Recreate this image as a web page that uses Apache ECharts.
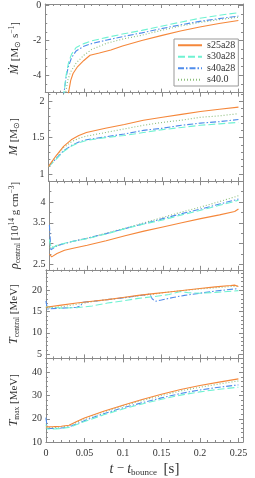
<!DOCTYPE html>
<html><head><meta charset="utf-8">
<script src="https://cdn.jsdelivr.net/npm/echarts@6/dist/echarts.min.js"></script>
<style>html,body{margin:0;padding:0;background:#fff}#c{width:255px;height:478px}</style>
</head><body><div id="c"></div>
<script>
// ---------- data ----------
const seriesNames = ['s25a28', 's30a28', 's40a28', 's40.0'];
const xMajorTicks = [0, 0.05, 0.1, 0.15, 0.2, 0.25];
const xTickLabels = ['0', '0.05', '0.1', '0.15', '0.2', '0.25'];

// Panel 1: mass accretion rate [Msun/s]
const mdot_s25a28 = [[0.029,-5.3],[0.033,-4.3],[0.036,-3.9],[0.042,-3.5],[0.05,-3.15],[0.058,-2.85],[0.07,-2.72],[0.085,-2.55],[0.1,-2.32],[0.125,-2.0],[0.15,-1.72],[0.175,-1.45],[0.2,-1.22],[0.225,-1.02],[0.25,-0.85]];
const mdot_s30a28 = [[0.0235,-5.3],[0.027,-4.0],[0.03,-3.3],[0.034,-2.8],[0.04,-2.4],[0.05,-2.18],[0.06,-2.02],[0.08,-1.82],[0.1,-1.63],[0.125,-1.42],[0.15,-1.18],[0.175,-0.95],[0.2,-0.72],[0.225,-0.55],[0.25,-0.4]];
const mdot_s40a28 = [[0.0235,-5.3],[0.027,-4.1],[0.03,-3.5],[0.034,-3.0],[0.04,-2.6],[0.05,-2.33],[0.06,-2.18],[0.08,-1.97],[0.1,-1.78],[0.125,-1.56],[0.15,-1.32],[0.175,-1.1],[0.2,-0.9],[0.225,-0.74],[0.25,-0.6]];
const mdot_s40_0  = [[0.0255,-5.3],[0.029,-4.3],[0.033,-3.8],[0.04,-3.3],[0.05,-2.85],[0.06,-2.52],[0.08,-2.15],[0.1,-1.92],[0.125,-1.7],[0.15,-1.42],[0.175,-1.17],[0.2,-0.96],[0.225,-0.8],[0.25,-0.66]];
const mdotTicks = [-4, -2, 0];

// Panel 2: PNS mass [Msun]
const mass_s25a28 = [[0,1.1],[0.01,1.25],[0.02,1.38],[0.03,1.47],[0.04,1.53],[0.05,1.57],[0.075,1.63],[0.1,1.68],[0.125,1.74],[0.15,1.78],[0.175,1.82],[0.2,1.86],[0.225,1.89],[0.25,1.92]];
const mass_s30a28 = [[0,1.1],[0.01,1.2],[0.02,1.31],[0.03,1.38],[0.04,1.43],[0.05,1.46],[0.075,1.5],[0.1,1.53],[0.125,1.57],[0.15,1.61],[0.175,1.64],[0.2,1.67],[0.225,1.69],[0.25,1.71]];
const mass_s40a28 = [[0,1.1],[0.01,1.21],[0.02,1.32],[0.03,1.39],[0.04,1.44],[0.05,1.47],[0.075,1.51],[0.1,1.55],[0.125,1.6],[0.15,1.63],[0.175,1.67],[0.2,1.7],[0.225,1.72],[0.25,1.75]];
const mass_s40_0  = [[0,1.1],[0.01,1.24],[0.02,1.36],[0.03,1.44],[0.04,1.49],[0.05,1.52],[0.075,1.57],[0.1,1.62],[0.125,1.67],[0.15,1.71],[0.175,1.74],[0.2,1.78],[0.225,1.8],[0.25,1.83]];
const massTicks = [1, 1.5, 2];

// Panel 3: central density [1e14 g/cm3]
const rho_s25a28 = [[0,2.75],[0.003,2.68],[0.01,2.76],[0.02,2.84],[0.03,2.88],[0.05,2.96],[0.075,3.07],[0.1,3.19],[0.125,3.3],[0.15,3.4],[0.175,3.5],[0.2,3.6],[0.225,3.69],[0.245,3.77],[0.25,3.83]];
const rho_s30a28 = [[0,3.1],[0.002,2.88],[0.01,2.96],[0.02,3.01],[0.03,3.05],[0.05,3.12],[0.075,3.23],[0.1,3.36],[0.125,3.47],[0.15,3.57],[0.175,3.69],[0.2,3.8],[0.225,3.92],[0.25,4.04]];
const rho_s40a28 = [[0,3.45],[0.002,2.85],[0.01,2.95],[0.02,3.0],[0.03,3.05],[0.05,3.13],[0.075,3.24],[0.1,3.36],[0.125,3.48],[0.14,3.55],[0.15,3.6],[0.175,3.72],[0.2,3.83],[0.225,3.95],[0.25,4.07]];
const rho_s40_0  = [[0,2.9],[0.002,2.86],[0.01,2.95],[0.02,3.0],[0.03,3.05],[0.05,3.13],[0.075,3.25],[0.1,3.37],[0.125,3.5],[0.15,3.63],[0.175,3.76],[0.2,3.88],[0.225,4.01],[0.25,4.15]];
const rhoTicks = [2.5, 3, 3.5, 4];

// Panel 4: central temperature [MeV]
const tc_s25a28 = [[0,16.0],[0.02,16.5],[0.04,17.0],[0.06,17.4],[0.08,17.8],[0.1,18.3],[0.12,18.8],[0.14,19.2],[0.16,19.6],[0.18,20.0],[0.2,20.4],[0.22,20.8],[0.24,21.1],[0.245,21.2],[0.25,20.9]];
const tc_s30a28 = [[0,16.2],[0.02,15.8],[0.04,15.9],[0.06,16.3],[0.08,17.0],[0.1,17.5],[0.12,18.1],[0.14,18.5],[0.16,19.0],[0.175,19.7],[0.185,19.4],[0.2,19.3],[0.22,19.5],[0.25,19.9]];
const tc_s40a28 = [[0,17.5],[0.002,15.6],[0.02,15.8],[0.04,16.0],[0.045,16.3],[0.048,17.2],[0.06,17.4],[0.08,17.8],[0.1,18.2],[0.12,18.7],[0.135,19.1],[0.138,18.0],[0.142,17.4],[0.15,17.7],[0.165,18.3],[0.18,18.8],[0.2,19.3],[0.22,19.8],[0.25,20.4]];
const tc_s40_0  = [[0,15.8],[0.02,16.1],[0.04,16.7],[0.06,17.3],[0.08,17.8],[0.1,18.2],[0.12,18.7],[0.14,19.1],[0.16,19.6],[0.18,19.95],[0.2,20.3],[0.22,20.6],[0.25,21.0]];
const tcTicks = [5, 10, 15, 20];

// Panel 5: maximum temperature [MeV]
const tmax_s25a28 = [[0,16.5],[0.01,16.6],[0.02,16.8],[0.03,17.2],[0.04,18.8],[0.05,20.3],[0.075,23.2],[0.1,25.8],[0.125,28.3],[0.15,30.6],[0.175,32.6],[0.2,34.3],[0.225,35.8],[0.25,37.2]];
const tmax_s30a28 = [[0,17.5],[0.002,15.6],[0.01,15.6],[0.02,15.8],[0.03,16.3],[0.04,17.5],[0.05,18.8],[0.075,21.7],[0.1,24.2],[0.125,26.4],[0.15,28.4],[0.175,30.2],[0.2,31.6],[0.225,32.7],[0.25,33.6]];
const tmax_s40a28 = [[0,20.5],[0.002,15.8],[0.01,15.8],[0.02,16.0],[0.03,16.5],[0.04,17.8],[0.05,19.2],[0.075,22.2],[0.1,24.7],[0.125,26.9],[0.15,29.0],[0.175,30.9],[0.2,32.4],[0.225,33.6],[0.25,34.6]];
const tmax_s40_0  = [[0,16.0],[0.01,16.2],[0.02,16.5],[0.03,17.0],[0.04,18.5],[0.05,20.0],[0.075,23.0],[0.1,25.5],[0.125,27.9],[0.15,30.0],[0.175,32.0],[0.2,33.6],[0.225,35.0],[0.25,36.3]];
const tmaxTicks = [10, 20, 30, 40];

// ---------- styling / layout ----------
const FONT = 'Liberation Serif';
const frameColor = '#8a8a8a';
const labelColor = '#333';
const colors = ['#F5873A', '#6FF2D2', '#4F8CEB', '#8DBE7C'];
const dashes = ['solid', [7, 3], [6, 2, 1.5, 2], [1, 2]];
const xMin = 0, xMax = 0.256;

const panels = [
  {data:[mdot_s25a28, mdot_s30a28, mdot_s40a28, mdot_s40_0], min:-5, max:0.1, ticks:mdotTicks, minorStep:0.5,
   name:'{it|Ṁ} {n|[M}{sub|⊙}{n| s}{sup|−1}{n|]}'},
  {data:[mass_s25a28, mass_s30a28, mass_s40a28, mass_s40_0], min:0.9, max:2.12, ticks:massTicks, minorStep:0.1,
   name:'{it|M} {n|[M}{sub|⊙}{n|]}'},
  {data:[rho_s25a28, rho_s30a28, rho_s40a28, rho_s40_0], min:2.37, max:4.5, ticks:rhoTicks, minorStep:0.25,
   name:'{it|ρ}{sub|central}{n| [10}{sup|14}{n| g cm}{sup|−3}{n|]}'},
  {data:[tc_s25a28, tc_s30a28, tc_s40a28, tc_s40_0], min:4, max:24.8, ticks:tcTicks, minorStep:1,
   name:'{it|T}{sub|central}{n| [MeV]}'},
  {data:[tmax_s25a28, tmax_s30a28, tmax_s40a28, tmax_s40_0], min:10, max:46, ticks:tmaxTicks, minorStep:2,
   name:'{it|T}{sub|max}{n| [MeV]}'}
];

const richName = {
  n:{fontFamily:FONT, fontSize:11, color:labelColor, lineHeight:14},
  it:{fontFamily:FONT, fontSize:12, fontStyle:'italic', color:labelColor, lineHeight:14},
  sub:{fontFamily:FONT, fontSize:7.5, color:labelColor, lineHeight:8, verticalAlign:'bottom'},
  sup:{fontFamily:FONT, fontSize:7.5, color:labelColor, lineHeight:8, verticalAlign:'top'}
};

function minorValues(min, max, step, majors) {
  const out = [];
  const start = Math.ceil(min / step - 1e-9);
  for (let k = start; k * step <= max + 1e-9; k++) {
    const v = +(k * step).toFixed(6);
    if (!majors.some(m => Math.abs(m - v) < 1e-9)) out.push(v);
  }
  return out;
}

const gridTop = 4, gridH = 88.6, gridLeft = 32, gridRight = 12;
const grid = [], xAxis = [], yAxis = [], series = [];
const xMinor = minorValues(xMin, xMax, 0.01, xMajorTicks);

panels.forEach((p, i) => {
  grid.push({left:gridLeft, right:gridRight, top:gridTop + i * gridH, height:gridH});
  const isLast = i === panels.length - 1;
  const lineSt = {color:frameColor, width:1};
  const base = {gridIndex:i, type:'value', min:xMin, max:xMax, splitLine:{show:false}};
  xAxis.push(Object.assign({}, base, {
    position:'bottom',
    axisLine:{show:true, onZero:false, lineStyle:lineSt},
    axisTick:{show:true, inside:true, length:4, customValues:xMajorTicks, lineStyle:lineSt},
    axisLabel:{show:isLast, customValues:xMajorTicks, margin:6, fontFamily:FONT, fontSize:10, color:labelColor,
      formatter:v => { const k = xMajorTicks.findIndex(m => Math.abs(m - v) < 1e-9); return k >= 0 ? xTickLabels[k] : ''; }},
    name: isLast ? '{it|t}{n| − }{it|t}{sub|bounce}{n|  }{b|[s]}' : '',
    nameLocation:'middle', nameGap:19,
    nameTextStyle:{rich:Object.assign({}, richName, {
      n:{fontFamily:FONT, fontSize:13, color:labelColor, lineHeight:16},
      it:{fontFamily:FONT, fontSize:14, fontStyle:'italic', color:labelColor, lineHeight:16},
      sub:{fontFamily:FONT, fontSize:9, color:labelColor, lineHeight:10, verticalAlign:'bottom'},
      b:{fontFamily:FONT, fontSize:15, color:labelColor, lineHeight:16}
    })}
  }));
  xAxis.push(Object.assign({}, base, {position:'bottom', axisLine:{show:false, onZero:false},
    axisTick:{show:true, inside:true, length:2, customValues:xMinor, lineStyle:lineSt}, axisLabel:{show:false}}));
  xAxis.push(Object.assign({}, base, {position:'top', axisLine:{show:true, onZero:false, lineStyle:lineSt},
    axisTick:{show:true, inside:true, length:4, customValues:xMajorTicks, lineStyle:lineSt}, axisLabel:{show:false}}));
  xAxis.push(Object.assign({}, base, {position:'top', axisLine:{show:false, onZero:false},
    axisTick:{show:true, inside:true, length:2, customValues:xMinor, lineStyle:lineSt}, axisLabel:{show:false}}));

  const yb = {gridIndex:i, type:'value', min:p.min, max:p.max, splitLine:{show:false}};
  const yMinor = minorValues(p.min, p.max, p.minorStep, p.ticks);
  yAxis.push(Object.assign({}, yb, {position:'left',
    axisLine:{show:true, onZero:false, lineStyle:lineSt},
    axisTick:{show:true, inside:true, length:4, customValues:p.ticks, lineStyle:lineSt},
    axisLabel:{show:true, customValues:p.ticks, margin:4, fontFamily:FONT, fontSize:10, color:labelColor,
      formatter:v => String(v)},
    name:p.name, nameLocation:'middle', nameGap:17, nameRotate:90,
    nameTextStyle:{rich:richName}
  }));
  yAxis.push(Object.assign({}, yb, {position:'left', axisLine:{show:false, onZero:false},
    axisTick:{show:true, inside:true, length:2, customValues:yMinor, lineStyle:lineSt}, axisLabel:{show:false}}));
  yAxis.push(Object.assign({}, yb, {position:'right', axisLine:{show:true, onZero:false, lineStyle:lineSt},
    axisTick:{show:true, inside:true, length:4, customValues:p.ticks, lineStyle:lineSt}, axisLabel:{show:false}}));
  yAxis.push(Object.assign({}, yb, {position:'right', axisLine:{show:false, onZero:false},
    axisTick:{show:true, inside:true, length:2, customValues:yMinor, lineStyle:lineSt}, axisLabel:{show:false}}));

  p.data.forEach((d, s) => {
    series.push({
      name:seriesNames[s], type:'line', xAxisIndex:i * 4, yAxisIndex:i * 4,
      data:d, showSymbol:false, symbol:'none', smooth:false, clip:true, animation:false,
      lineStyle:{color:colors[s], width:1.1, type:dashes[s]}, itemStyle:{color:colors[s]}, z:10 - s
    });
  });
});

const chart = echarts.init(document.getElementById('c'), null, {renderer:'canvas'});
chart.setOption({
  animation:false,
  backgroundColor:'#fff',
  color:colors,
  grid, xAxis, yAxis, series,
  legend:{
    data:seriesNames, orient:'vertical', left:174, top:39,
    itemWidth:24, itemHeight:8, itemGap:1,
    padding:[1, 3, 1, 3],
    borderColor:'#999', borderWidth:1, backgroundColor:'#fff',
    itemStyle:{opacity:0},
    textStyle:{fontFamily:FONT, fontSize:10, color:labelColor, lineHeight:10.5},
    selectedMode:false
  }
});
</script></body></html>
